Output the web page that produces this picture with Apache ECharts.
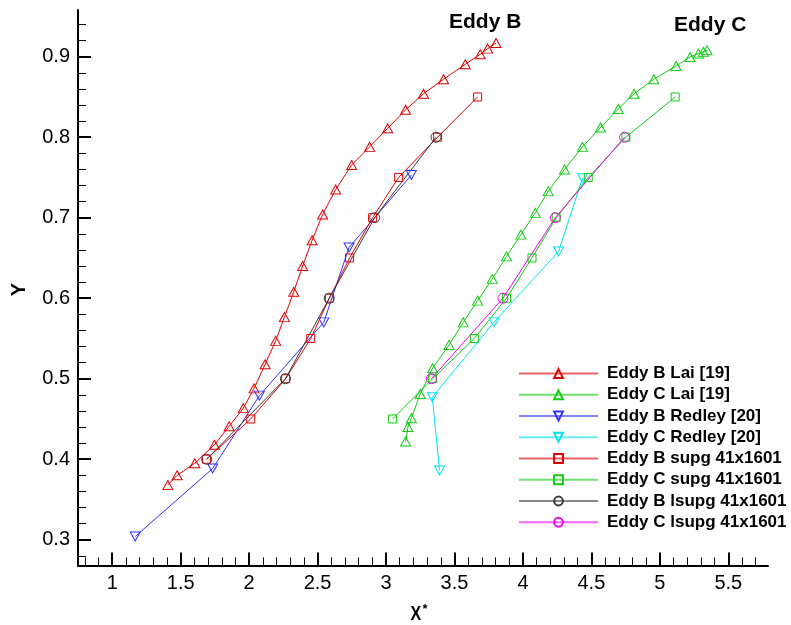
<!DOCTYPE html>
<html>
<head>
<meta charset="utf-8">
<script src="https://cdn.jsdelivr.net/npm/echarts@6/dist/echarts.min.js"></script>
<style>
  html, body { margin: 0; padding: 0; background: #ffffff; }
  #chart { width: 791px; height: 625px; }
</style>
</head>
<body>
<div id="chart"></div>
<script>
// Vortex centre trajectories (x*, y) for eddies B and C

const eddyBLaiX = [1.406, 1.474, 1.603, 1.747, 1.854, 1.958, 2.036, 2.117, 2.194, 2.258, 2.326, 2.391, 2.460,
                   2.537, 2.632, 2.749, 2.880, 3.012, 3.143, 3.274, 3.420, 3.579, 3.688, 3.742, 3.803];
const eddyBLaiY = [0.368, 0.380, 0.395, 0.418, 0.441, 0.4635, 0.488, 0.518, 0.547, 0.5765, 0.608, 0.640, 0.672,
                   0.704, 0.735, 0.7655, 0.788, 0.811, 0.834, 0.854, 0.872, 0.8906, 0.903, 0.910, 0.917];

const eddyCLaiX = [3.143, 3.160, 3.185, 3.250, 3.340, 3.460, 3.564, 3.669, 3.776, 3.880, 3.985, 4.090,
                   4.185, 4.304, 4.435, 4.566, 4.696, 4.812, 4.956, 5.119, 5.221, 5.282, 5.318, 5.345];
const eddyCLaiY = [0.422, 0.440, 0.451, 0.481, 0.513, 0.542, 0.570, 0.597, 0.624, 0.652, 0.679, 0.706,
                   0.733, 0.760, 0.788, 0.812, 0.835, 0.854, 0.872, 0.8885, 0.8996, 0.904, 0.906, 0.908];

const eddyBRedleyX = [1.168, 1.734, 2.075, 2.545, 2.730, 3.185];
const eddyBRedleyY = [0.304, 0.3885, 0.479, 0.570, 0.663, 0.753];

const eddyCRedleyX = [3.391, 3.338, 3.788, 4.260, 4.435];
const eddyCRedleyY = [0.386, 0.477, 0.570, 0.658, 0.749];

const eddyBSupgX = [1.688, 2.012, 2.267, 2.450, 2.586, 2.734, 2.902, 3.092, 3.377, 3.669];
const eddyBSupgY = [0.40, 0.45, 0.50, 0.55, 0.60, 0.65, 0.70, 0.75, 0.80, 0.85];

const eddyCSupgX = [3.048, 3.340, 3.645, 3.880, 4.066, 4.243, 4.477, 4.752, 5.112];
const eddyCSupgY = [0.45, 0.50, 0.55, 0.60, 0.65, 0.70, 0.75, 0.80, 0.85];

const eddyBLsupgX = [1.690, 2.265, 2.585, 2.917, 3.365];
const eddyBLsupgY = [0.40, 0.50, 0.60, 0.70, 0.80];

const eddyCLsupgX = [3.331, 3.854, 4.236, 4.742];
const eddyCLsupgY = [0.50, 0.60, 0.70, 0.80];

// Tick labels
const xTickValues = [1, 1.5, 2, 2.5, 3, 3.5, 4, 4.5, 5, 5.5];
const yTickValues = [0.3, 0.4, 0.5, 0.6, 0.7, 0.8, 0.9];

const X_MIN = 0.75, X_MAX = 5.79;
const Y_MIN = 0.268, Y_MAX = 0.958;

// Minor ticks: every 0.1 on x, every 0.02 on y, skipping the labelled ones
function minorTicks(lo, hi, step, majorStep) {
  const out = [];
  const n = Math.round((hi - lo) / step);
  for (let i = 0; i <= n; i++) {
    const v = Math.round((lo + i * step) * 1000) / 1000;
    const r = v / majorStep;
    if (Math.abs(r - Math.round(r)) > 1e-6) out.push(v);
  }
  return out;
}
const xMinorValues = minorTicks(0.8, 5.7, 0.1, 0.5);
const yMinorValues = minorTicks(0.28, 0.94, 0.02, 0.1);

const FONT = '"Liberation Sans", Arial, Helvetica, sans-serif';

function pairs(xs, ys) {
  return xs.map((x, i) => [x, ys[i]]);
}

function makeSeries(name, xs, ys, color, symbol, size, rotate) {
  return {
    type: 'line',
    name: name,
    data: pairs(xs, ys),
    symbol: symbol,
    symbolSize: size,
    symbolRotate: rotate || 0,
    showSymbol: true,
    showAllSymbol: true,
    lineStyle: { color: color, width: 1 },
    itemStyle: { color: 'transparent', borderColor: color, borderWidth: 1 },
    emphasis: { disabled: true },
    silent: true
  };
}

const RED = '#e00000', GREEN = '#10cc10', BLUE = '#3030ff', CYAN = '#00e4f0',
      BLACK = '#3a3a3a', MAGENTA = '#f000f0';

const series = [
  makeSeries('Eddy B Lai [19]', eddyBLaiX, eddyBLaiY, RED, 'triangle', [10, 9]),
  makeSeries('Eddy C Lai [19]', eddyCLaiX, eddyCLaiY, GREEN, 'triangle', [10, 9]),
  makeSeries('Eddy B Redley [20]', eddyBRedleyX, eddyBRedleyY, BLUE, 'triangle', [10, 9], 180),
  makeSeries('Eddy C Redley [20]', eddyCRedleyX, eddyCRedleyY, CYAN, 'triangle', [10, 9], 180),
  makeSeries('Eddy B supg 41x1601', eddyBSupgX, eddyBSupgY, RED, 'rect', 8),
  makeSeries('Eddy C supg 41x1601', eddyCSupgX, eddyCSupgY, GREEN, 'rect', 8),
  makeSeries('Eddy B lsupg 41x1601', eddyBLsupgX, eddyBLsupgY, BLACK, 'circle', 10),
  makeSeries('Eddy C lsupg 41x1601', eddyCLsupgX, eddyCLsupgY, MAGENTA, 'circle', 10)
];

const chart = echarts.init(document.getElementById('chart'), null, { renderer: 'canvas' });

const axisCommon = {
  type: 'value',
  splitLine: { show: false },
  axisPointer: { show: false }
};

chart.setOption({
  animation: false,
  backgroundColor: '#ffffff',
  grid: { left: 78, right: 23, top: 10, bottom: 59.5, containLabel: false },
  xAxis: [
    Object.assign({}, axisCommon, {
      min: X_MIN, max: X_MAX,
      axisLine: { show: true, onZero: false, lineStyle: { color: '#000', width: 2 } },
      axisTick: { show: true, inside: true, length: 13, lineStyle: { color: '#000', width: 2 },
                  customValues: xTickValues },
      axisLabel: { show: true, margin: 8, fontSize: 20, fontFamily: FONT, color: '#000',
                   customValues: xTickValues }
    }),
    Object.assign({}, axisCommon, {
      min: X_MIN, max: X_MAX, position: 'bottom',
      axisLine: { show: false, onZero: false },
      axisTick: { show: true, inside: true, length: 8, lineStyle: { color: '#000', width: 1 },
                  customValues: xMinorValues },
      axisLabel: { show: false }
    })
  ],
  yAxis: [
    Object.assign({}, axisCommon, {
      min: Y_MIN, max: Y_MAX,
      axisLine: { show: true, onZero: false, lineStyle: { color: '#000', width: 2 } },
      axisTick: { show: true, inside: true, length: 13, lineStyle: { color: '#000', width: 2 },
                  customValues: yTickValues },
      axisLabel: { show: true, margin: 8, fontSize: 20, fontFamily: FONT, color: '#000',
                   customValues: yTickValues }
    }),
    Object.assign({}, axisCommon, {
      min: Y_MIN, max: Y_MAX, position: 'left',
      axisLine: { show: false, onZero: false },
      axisTick: { show: true, inside: true, length: 8, lineStyle: { color: '#000', width: 1 },
                  customValues: yMinorValues },
      axisLabel: { show: false }
    })
  ],
  legend: {
    show: true,
    orient: 'vertical',
    left: 513,
    top: 358,
    itemWidth: 79,
    itemHeight: 11,
    itemGap: 0.25,
    selectedMode: false,
    backgroundColor: 'transparent',
    lineStyle: { width: 2, opacity: 0.6 },
    textStyle: {
      color: '#000',
      fontSize: 17,
      fontWeight: 'bold',
      fontFamily: FONT,
      lineHeight: 21,
      padding: [0, 0, 0, 4]
    },
    data: series.map(s => s.name)
  },
  graphic: [
    {
      type: 'text', left: 449, top: 12,
      style: { text: 'Eddy B', font: 'bold 21px ' + FONT, fill: '#000' }
    },
    {
      type: 'text', left: 674, top: 15,
      style: { text: 'Eddy C', font: 'bold 21px ' + FONT, fill: '#000' }
    },
    {
      type: 'text', x: 19.5, y: 289.5, rotation: Math.PI / 2,
      style: { text: 'Y', font: 'bold 20px ' + FONT, fill: '#000',
               align: 'center', verticalAlign: 'middle' }
    },
    {
      type: 'text', x: 410.5, y: 614.5, scaleX: 0.8,
      style: { text: 'X', font: 'bold 20px ' + FONT, fill: '#000',
               align: 'left', verticalAlign: 'middle' }
    },
    {
      type: 'text', x: 422.5, y: 609,
      style: { text: '*', font: 'bold 13px ' + FONT, fill: '#000',
               align: 'left', verticalAlign: 'middle' }
    }
  ],
  series: series
});
</script>
</body>
</html>
